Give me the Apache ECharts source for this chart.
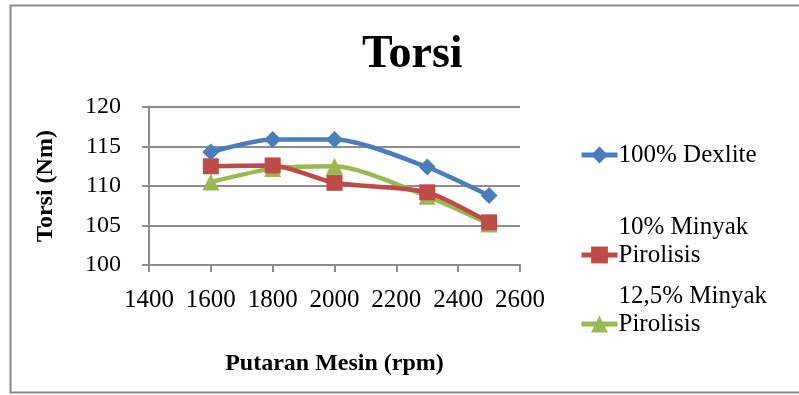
<!DOCTYPE html>
<html>
<head>
<meta charset="utf-8">
<script src="https://cdn.jsdelivr.net/npm/echarts@6/dist/echarts.min.js"></script>
<style>html,body{margin:0;padding:0;background:#fff}#c{width:799px;height:395px}</style>
</head>
<body>
<div id="c"></div>
<script>
const rpm = [1600, 1800, 2000, 2300, 2500];
const dexlite = [114.3, 115.9, 115.9, 112.4, 108.8];
const minyak10 = [112.5, 112.6, 110.4, 109.2, 105.4];
const minyak125 = [110.5, 112.2, 112.5, 108.7, 105.2];
const seriesNames = ['100% Dexlite', '10% Minyak Pirolisis', '12,5% Minyak Pirolisis'];
const yTicks = [100, 105, 110, 115, 120];
const xTicks = [1400, 1600, 1800, 2000, 2200, 2400, 2600];

const FONT = '"Liberation Serif", "Times New Roman", serif';
const colors = ['#4A7EBB', '#BE4B48', '#98B954'];
const symbols = ['diamond', 'rect', 'triangle'];
const sizes = [17, 16, 17];
const values = [dexlite, minyak10, minyak125];

const chart = echarts.init(document.getElementById('c'));
function legendFor(i, top) {
  return {
    show: true,
    orient: 'vertical',
    left: 579,
    top: top,
    padding: 0,
    data: [seriesNames[i]],
    itemWidth: 36,
    itemHeight: 21,
    itemGap: 0,
    selectedMode: false,
    lineStyle: { width: 5 },
    formatter: function (n) {
      return n.indexOf('Minyak') >= 0 ? n.replace(' Pirolisis', '\nPirolisis\n ') : n;
    },
    textStyle: { fontFamily: FONT, fontSize: 25, color: '#000', lineHeight: 28, padding: [0, 0, 0, -4] }
  };
}
chart.setOption({
  animation: false,
  color: colors,
  title: {
    text: 'Torsi',
    left: 357,
    top: 27,
    textStyle: { fontFamily: FONT, fontSize: 46, fontWeight: 'bold', color: '#000' }
  },
  graphic: [{
    type: 'rect',
    shape: { x: 10.5, y: 5.5, width: 800, height: 387 },
    style: { fill: 'none', stroke: '#8a8a8a', lineWidth: 2 },
    silent: true
  }],
  legend: [legendFor(0, 141), legendFor(1, 213), legendFor(2, 282)],
  grid: { left: 149, right: 279, top: 107, bottom: 130 },
  xAxis: {
    type: 'value',
    min: xTicks[0],
    max: xTicks[xTicks.length - 1],
    interval: 200,
    name: 'Putaran Mesin (rpm)',
    nameLocation: 'middle',
    nameGap: 87,
    nameTextStyle: { fontFamily: FONT, fontSize: 24, fontWeight: 'bold', color: '#000' },
    axisLine: { show: true, onZero: false, lineStyle: { color: '#8c8c8c', width: 2 } },
    axisTick: { show: true, length: 7, lineStyle: { color: '#8c8c8c', width: 2 } },
    axisLabel: { margin: 23, fontFamily: FONT, fontSize: 25, color: '#000', formatter: v => String(v) },
    splitLine: { show: false }
  },
  yAxis: {
    type: 'value',
    min: yTicks[0],
    max: yTicks[yTicks.length - 1],
    interval: 5,
    name: 'Torsi (Nm)',
    nameLocation: 'middle',
    nameGap: 91,
    nameTextStyle: { fontFamily: FONT, fontSize: 24, fontWeight: 'bold', color: '#000' },
    axisLine: { show: true, lineStyle: { color: '#8c8c8c', width: 2 } },
    axisTick: { show: true, length: 7, lineStyle: { color: '#8c8c8c', width: 2 } },
    axisLabel: { margin: 28, fontFamily: FONT, fontSize: 24, color: '#000', formatter: v => String(v) },
    splitLine: { show: true, lineStyle: { color: '#8c8c8c', width: 2 } }
  },
  series: values.map((v, i) => ({
    name: seriesNames[i],
    type: 'line',
    smooth: 0.25,
    data: rpm.map((x, j) => [x, v[j]]),
    symbol: symbols[i],
    symbolSize: sizes[i],
    lineStyle: { width: 4.5, color: colors[i] },
    itemStyle: { color: colors[i] },
    z: 3 - i
  }))
});
</script>
</body>
</html>
